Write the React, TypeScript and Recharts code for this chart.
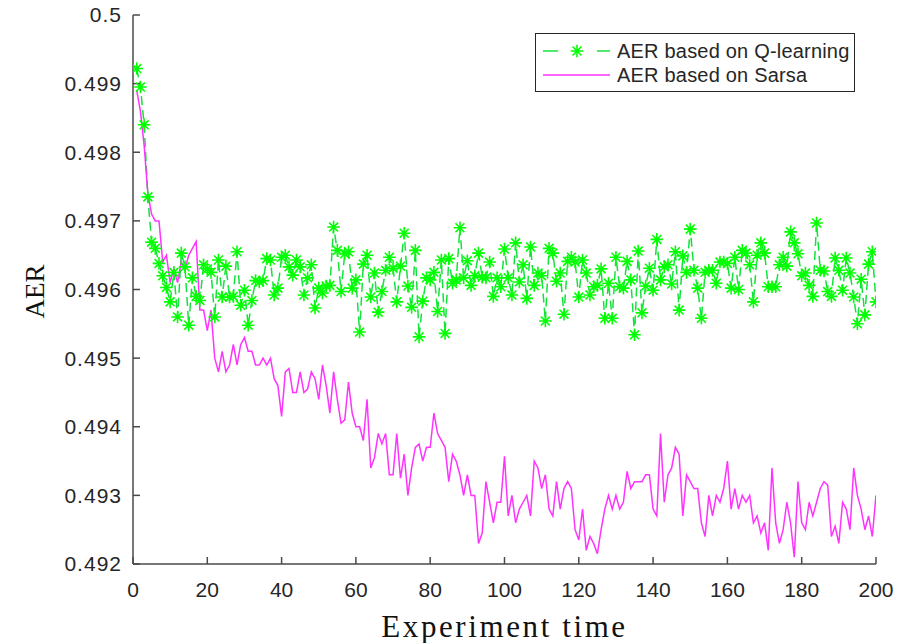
import React from 'react';
import { LineChart, Line, XAxis, YAxis, Legend, Label } from 'recharts';

const qLearning: number[] = [
  0.49922, 0.49895, 0.4984, 0.49735, 0.49669, 0.4966, 0.49638, 0.4962, 0.49603, 0.49582,
  0.49625, 0.4956, 0.49653, 0.49633, 0.49548, 0.49617, 0.4959, 0.49584, 0.49636, 0.4963,
  0.49625, 0.4956, 0.49643, 0.49589, 0.49634, 0.49589, 0.4959, 0.49655, 0.49577, 0.49599,
  0.49548, 0.49584, 0.49613, 0.49611, 0.49613, 0.49645, 0.49643, 0.49592, 0.49602, 0.49647,
  0.4965, 0.49633, 0.49621, 0.49643, 0.49633, 0.49592, 0.49617, 0.49636, 0.49573, 0.49602,
  0.49595, 0.49605, 0.49606, 0.49691, 0.49657, 0.49597, 0.49652, 0.49655, 0.49602, 0.49614,
  0.49538, 0.49637, 0.4965, 0.49589, 0.49624, 0.49567, 0.49597, 0.49628, 0.49647, 0.49631,
  0.49582, 0.49634, 0.49682, 0.49605, 0.49574, 0.49657, 0.49531, 0.49583, 0.49617, 0.49614,
  0.49625, 0.49568, 0.49643, 0.49536, 0.49645, 0.49609, 0.49614, 0.4969, 0.49617, 0.49642,
  0.49606, 0.4962, 0.49653, 0.49618, 0.49617, 0.4964, 0.4959, 0.49617, 0.49604, 0.49659,
  0.49617, 0.49592, 0.49668, 0.49611, 0.49636, 0.49587, 0.49662, 0.49606, 0.49624, 0.4962,
  0.49554, 0.4966, 0.49653, 0.49612, 0.49624, 0.49564, 0.49641, 0.49647, 0.4964, 0.49589,
  0.49643, 0.49624, 0.49592, 0.49604, 0.49606, 0.4963, 0.49558, 0.49609, 0.49558, 0.49647,
  0.49604, 0.49602, 0.49641, 0.49614, 0.49534, 0.49656, 0.49566, 0.49605, 0.49631, 0.49599,
  0.49673, 0.49614, 0.49633, 0.49636, 0.49608, 0.49655, 0.4957, 0.49649, 0.49625, 0.49688,
  0.49628, 0.49602, 0.49558, 0.49625, 0.49628, 0.49628, 0.49609, 0.4964, 0.4964, 0.49638,
  0.49602, 0.49647, 0.496, 0.49657, 0.49653, 0.49636, 0.49582, 0.4965, 0.49668, 0.49653,
  0.49604, 0.49604, 0.49604, 0.49636, 0.49647, 0.49634, 0.49684, 0.49668, 0.49652, 0.4962,
  0.49624, 0.49606, 0.4959, 0.49697, 0.49628, 0.49627, 0.49597, 0.4959, 0.49646, 0.49628,
  0.49599, 0.49646, 0.49624, 0.49589, 0.4955, 0.49615, 0.49563, 0.49637, 0.49655, 0.49582,
];

const sarsa: number[] = [
  0.4989, 0.4986, 0.4981, 0.4974, 0.4971, 0.497, 0.497, 0.4964, 0.4965, 0.4961,
  0.4963, 0.4961, 0.4964, 0.4963, 0.4965, 0.4966, 0.4967, 0.4957, 0.4957, 0.4954,
  0.4957, 0.495, 0.4948, 0.4951, 0.4948, 0.4949, 0.4952, 0.4949, 0.4952, 0.4953,
  0.4951, 0.4951, 0.4949, 0.4949, 0.495, 0.4949, 0.495, 0.4947, 0.4946, 0.49415,
  0.4948, 0.49485, 0.4945, 0.4945, 0.4948, 0.4945, 0.49455, 0.4948, 0.4947, 0.4944,
  0.4949, 0.4946, 0.4942, 0.4948, 0.4944, 0.49405, 0.4941, 0.49465, 0.4942, 0.494,
  0.494, 0.4938, 0.4944, 0.4934, 0.49355, 0.4939, 0.49375, 0.4939, 0.4933, 0.4933,
  0.4939, 0.49325, 0.4936, 0.493, 0.4934, 0.4937, 0.49375, 0.4935, 0.4937, 0.4937,
  0.4942, 0.4939, 0.4938, 0.4937, 0.4932, 0.4936, 0.4935, 0.4933, 0.493, 0.4933,
  0.493, 0.493, 0.4923, 0.49245, 0.4932, 0.4929, 0.4926, 0.4929, 0.4929, 0.49357,
  0.4927, 0.493, 0.4926, 0.4928, 0.4929, 0.493, 0.4927, 0.4935, 0.4934, 0.4931,
  0.4933, 0.4928, 0.4927, 0.4932, 0.4928, 0.4931, 0.4932, 0.4931, 0.4925, 0.49235,
  0.4928, 0.4922, 0.4924, 0.4923, 0.49215, 0.4925, 0.4928, 0.493, 0.4928, 0.493,
  0.4928, 0.4929, 0.49335, 0.4931, 0.4932, 0.4932, 0.4932, 0.4933, 0.4933, 0.4928,
  0.4927, 0.4939, 0.4929, 0.4933, 0.4934, 0.4937, 0.4936, 0.4927, 0.4933, 0.4932,
  0.4931, 0.4931, 0.4926, 0.4924, 0.493, 0.4927, 0.493, 0.4929, 0.4931, 0.4935,
  0.4928, 0.4931, 0.4928, 0.493, 0.4929, 0.493, 0.4926, 0.4927, 0.49245, 0.4926,
  0.4922, 0.4934, 0.4926, 0.4923, 0.4925, 0.4929, 0.4926, 0.4921, 0.4932, 0.4926,
  0.4925, 0.4929, 0.4927, 0.4929, 0.4931, 0.4932, 0.49315, 0.4924, 0.49255, 0.4923,
  0.4929, 0.4928, 0.4925, 0.4934, 0.493, 0.4928, 0.4925, 0.4927, 0.4924, 0.493,
];

const xTicks = [0, 20, 40, 60, 80, 100, 120, 140, 160, 180, 200];
const yTicks = [0.492, 0.493, 0.494, 0.495, 0.496, 0.497, 0.498, 0.499, 0.5];
const seriesNames = ['AER based on Q-learning', 'AER based on Sarsa'];

const data = qLearning.map((q, i) => ({ t: i + 1, q, s: sarsa[i] }));

const GREEN = '#00ff00';
const GREEN_LINE = '#14e23c';
const MAGENTA = '#ff33ff';
const AXIS = '#4a4a4a';
const TEXT = '#262626';

const starPath = (cx: number, cy: number, r: number) => {
  const d = r * 0.7071;
  return `M${cx - r},${cy}L${cx + r},${cy}M${cx},${cy - r}L${cx},${cy + r}M${cx - d},${cy - d}L${cx + d},${cy + d}M${cx - d},${cy + d}L${cx + d},${cy - d}`;
};

const StarDot = (props: any) => {
  const { cx, cy, index } = props;
  if (cx == null || cy == null) return <g key={`s-${index}`} />;
  return <path key={`s-${index}`} d={starPath(cx, cy, 6.3)} stroke={GREEN} strokeWidth={1.6} fill="none" />;
};

const fmt = (v: number) => String(Number(v.toFixed(3)));

const LegendBox = () => (
  <svg width={320} height={59} style={{ display: 'block' }}>
    <rect x={0.5} y={0.5} width={319} height={58} fill="#fff" stroke={TEXT} strokeWidth={1} />
    <line x1={8} x2={23} y1={18} y2={18} stroke={GREEN_LINE} strokeWidth={1.5} />
    <path d={starPath(42, 18, 6.3)} stroke={GREEN} strokeWidth={1.6} fill="none" />
    <line x1={62} x2={75} y1={18} y2={18} stroke={GREEN_LINE} strokeWidth={1.5} />
    <text x={82} y={18} dominantBaseline="central" fontFamily="Liberation Sans, Arial, sans-serif" fontSize={20} letterSpacing={0.2} fill={TEXT}>{seriesNames[0]}</text>
    <line x1={8} x2={75} y1={42} y2={42} stroke={MAGENTA} strokeWidth={1.5} />
    <text x={82} y={42} dominantBaseline="central" fontFamily="Liberation Sans, Arial, sans-serif" fontSize={20} letterSpacing={0.2} fill={TEXT}>{seriesNames[1]}</text>
  </svg>
);

const tickStyle = { fill: TEXT, fontSize: 21, fontFamily: 'Liberation Sans, Arial, sans-serif' };

export default function App() {
  return (
    <div style={{ position: 'absolute', left: 0, top: 0, width: 897, height: 643 }}>
      <LineChart width={897} height={643} data={data} margin={{ top: 15, right: 21, bottom: 0, left: 0 }}>
        <XAxis
          dataKey="t"
          type="number"
          domain={[0, 200]}
          ticks={xTicks}
          interval={0}
          height={79}
          tickSize={-7}
          tickMargin={25}
          stroke={AXIS}
          strokeWidth={1.5}
          tick={tickStyle}
          allowDataOverflow
        >
          <Label
            content={(p: any) => {
              const vb = p.viewBox || {};
              return (
                <text x={vb.x + vb.width / 2} y={vb.y + 73} textAnchor="middle" fontFamily="Liberation Serif, Times New Roman, serif" fontSize={31} letterSpacing={2.6} fill="#111">
                  Experiment time
                </text>
              );
            }}
          />
        </XAxis>
        <XAxis xAxisId="top" orientation="top" type="number" domain={[0, 200]} ticks={xTicks} interval={0} height={0} tickSize={-7} tick={false} stroke={AXIS} strokeWidth={1.5} allowDataOverflow />
        <YAxis
          type="number"
          domain={[0.492, 0.5]}
          ticks={yTicks}
          interval={0}
          width={133}
          tickSize={-7}
          tickMargin={18}
          tickFormatter={fmt}
          stroke={AXIS}
          strokeWidth={1.5}
          tick={{ ...tickStyle, letterSpacing: 1 }}
          allowDataOverflow
        >
          <Label
            content={(p: any) => {
              const vb = p.viewBox || {};
              const cx = vb.x + 35;
              const cy = vb.y + vb.height / 2 + 2;
              return (
                <text x={cx} y={cy} transform={`rotate(-90, ${cx}, ${cy})`} textAnchor="middle" dominantBaseline="central" fontFamily="Liberation Serif, Times New Roman, serif" fontSize={27} fill="#111">
                  AER
                </text>
              );
            }}
          />
        </YAxis>
        <YAxis yAxisId="right" orientation="right" type="number" domain={[0.492, 0.5]} ticks={yTicks} interval={0} width={0} tickSize={-7} tick={false} stroke={AXIS} strokeWidth={1.5} allowDataOverflow />
        <Legend
          layout="horizontal"
          verticalAlign="middle"
          align="center"
          wrapperStyle={{ left: 535, top: 33, width: 320, height: 59 }}
          content={() => <LegendBox />}
        />
        <Line
          type="linear"
          dataKey="q"
          name={seriesNames[0]}
          stroke={GREEN_LINE}
          strokeWidth={1.5}
          strokeDasharray="9 5"
          dot={StarDot}
          activeDot={false}
          isAnimationActive={false}
        />
        <Line
          type="linear"
          dataKey="s"
          name={seriesNames[1]}
          stroke={MAGENTA}
          strokeWidth={1.5}
          dot={false}
          activeDot={false}
          isAnimationActive={false}
        />
      </LineChart>
    </div>
  );
}
